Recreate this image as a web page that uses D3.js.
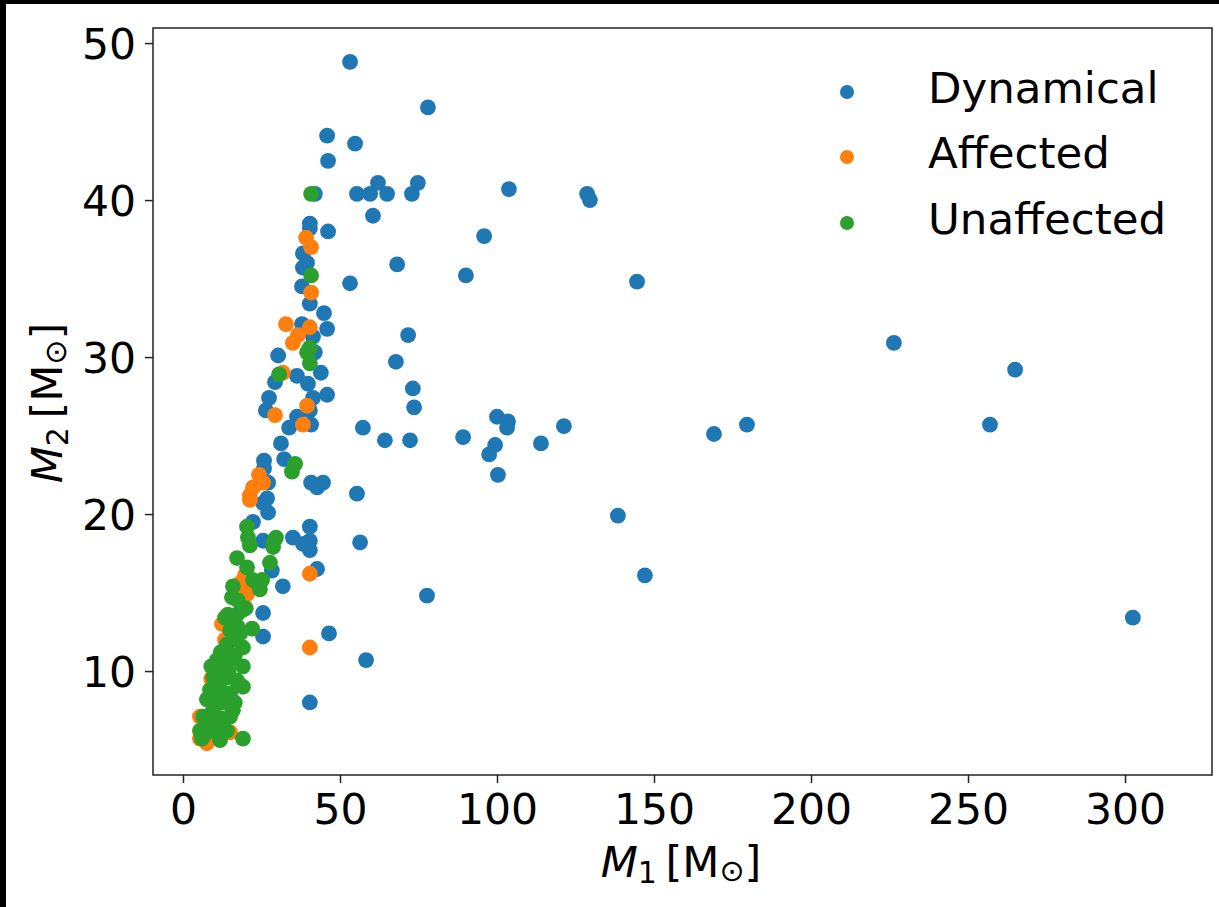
<!DOCTYPE html>
<html>
<head>
<meta charset="utf-8">
<script src="https://cdn.jsdelivr.net/npm/d3@7"></script>
<style>
  html, body { margin: 0; padding: 0; background: #fff; }
  svg { display: block; }
  text { font-family: "DejaVu Sans", sans-serif; fill: #000; }
</style>
</head>
<body>
<svg id="chart" width="1219" height="907"></svg>
<script>
// ---------------- data ----------------
const seriesNames = ["Dynamical", "Affected", "Unaffected"];
const seriesColors = ["#1f77b4", "#ff7f0e", "#2ca02c"];

const dynamicalM1 = [53.2,78.0,45.9,54.8,46.2,42.0,55.4,59.6,62.1,65.0,72.9,74.8,60.5,40.4,40.4,46.2,38.2,38.2,68.2,53.2,
  40.4,44.9,45.9,37.9,41.4,42.0,30.3,71.7,67.8,29.3,36.3,39.8,43.9,73.2,73.6,27.4,26.4,45.9,41.4,40.4,
  36.3,33.8,40.8,57.3,64.3,72.3,89.2,31.2,32.2,25.8,25.8,27.1,26.8,40.8,44.6,42.7,55.4,
  103.8,128.7,129.6,95.9,90.1,144.6,100.0,103.5,103.2,99.4,97.5,100.3,114.0,121.3,169.1,179.6,138.5,147.1,
  226.4,265.0,257.0,302.5,77.7,58.3,56.4,46.5,40.4,
  25.5,27.1,22.3,25.5,35.0,40.4,40.4,40.4,38.2,28.3,42.7,31.8,25.5,25.5,39.5,37.9];
const dynamicalM2 = [48.8,45.9,44.1,43.6,42.5,40.4,40.4,40.4,41.1,40.4,40.4,41.1,39.0,38.5,38.2,38.0,36.6,35.7,35.9,34.7,
  33.4,32.8,31.8,32.1,31.3,30.3,30.1,31.4,29.7,28.4,28.8,28.3,29.0,28.0,26.8,27.4,26.6,27.6,27.4,26.6,
  26.2,25.5,25.7,25.5,24.7,24.7,24.9,24.5,23.5,23.4,22.9,22.0,21.0,22.0,22.0,21.7,21.3,
  40.7,40.4,40.0,37.7,35.2,34.8,26.2,25.9,25.5,24.4,23.8,22.5,24.5,25.6,25.1,25.7,19.9,16.1,
  30.9,29.2,25.7,13.4,14.8,10.7,18.2,12.4,8.0,
  20.7,20.1,19.5,18.3,18.5,19.2,18.3,17.7,18.1,16.4,16.5,15.4,13.7,12.2,36.0,34.5];

const affectedM1 = [39.2,40.8,40.8,32.8,40.4,36.6,35.0,31.8,29.3,39.5,38.2,24.2,25.5,22.3,21.3,21.3,40.4,40.4,
  19.7,18.2,20.4,12.4,14.0,13.0,5.4,7.6,15.0,5.4,20.0,16.5,13.4,9.0];
const affectedM2 = [37.6,37.0,34.1,32.1,31.9,31.4,30.9,29.0,26.3,26.9,25.7,22.5,22.0,21.7,21.2,20.9,16.2,11.5,
  16.1,15.6,14.9,13.0,11.0,8.0,5.7,5.4,6.1,7.1,15.5,15.0,12.0,9.5];

const unaffectedM1 = [20.4,20.7,21.3,29.6,28.7,27.7,17.2,20.4,22.3,25.2,24.5,15.9,15.6,14.3,17.2,13.4,19.1,22.0,18.2,15.0,
  14.0,19.1,10.8,15.0,19.1,9.6,14.0,17.2,8.6,15.0,19.1,7.6,11.8,15.9,6.4,10.8,15.0,5.4,10.8,14.0,
  6.0,11.8,19.1,12.4,13.0,9.5,12.0,16.5,8.0,13.0,16.5,11.5,10.0,17.5,20.0,16.0,
  12.0,14.5,11.0,13.5,9.0,12.5,8.5,7.0,16.0,17.5,
  40.8,40.8,40.4,39.5,40.4,30.6,35.7,34.7,29.0,24.0];
const unaffectedM2 = [19.2,18.5,18.0,18.5,17.9,16.9,17.2,16.6,15.8,15.8,15.2,15.4,14.7,13.6,13.6,13.4,13.9,12.7,12.4,12.6,
  11.7,11.5,10.7,10.7,10.3,9.6,9.6,9.4,8.8,8.6,9.0,8.2,8.0,7.5,7.1,6.9,7.1,6.2,6.1,6.2,
  5.7,5.6,5.7,10.0,8.5,7.5,7.0,8.0,6.5,10.5,11.0,9.0,8.5,14.5,14.0,12.0,
  11.2,10.0,9.8,8.0,10.3,6.6,6.9,6.0,13.2,12.8,
  40.4,35.2,30.6,30.3,29.6,28.9,23.2,22.7,18.3,15.5];

const xTicks = [0, 50, 100, 150, 200, 250, 300];
const yTicks = [10, 20, 30, 40, 50];
const xDomain = [-9.55, 327.7];
const yDomain = [3.38, 50.96];

// ---------------- layout ----------------
const svg = d3.select("#chart");
const W = 1219, H = 907;
const plot = { left: 153, right: 1212, top: 28, bottom: 775 };

svg.append("rect").attr("width", W).attr("height", H).attr("fill", "#fff");
// dark border strips of the original picture
svg.append("rect").attr("x", 0).attr("y", 0).attr("width", W).attr("height", 4).attr("fill", "#000");
svg.append("rect").attr("x", 0).attr("y", 0).attr("width", 6).attr("height", H).attr("fill", "#000");

const x = d3.scaleLinear().domain(xDomain).range([plot.left, plot.right]);
const y = d3.scaleLinear().domain(yDomain).range([plot.bottom, plot.top]);

// points
const seriesData = [
  d3.zip(dynamicalM1, dynamicalM2),
  d3.zip(affectedM1, affectedM2),
  d3.zip(unaffectedM1, unaffectedM2)
];
const gPts = svg.append("g");
seriesData.forEach((pts, i) => {
  gPts.append("g").selectAll("circle").data(pts).join("circle")
    .attr("cx", d => x(d[0])).attr("cy", d => y(d[1]))
    .attr("r", 7.9).attr("fill", seriesColors[i]);
});

// frame
svg.append("rect")
  .attr("x", plot.left).attr("y", plot.top)
  .attr("width", plot.right - plot.left).attr("height", plot.bottom - plot.top)
  .attr("fill", "none").attr("stroke", "#222").attr("stroke-width", 1.5);

// axes
const fontSize = 42.5;
const xAxis = svg.append("g").attr("transform", `translate(0,${plot.bottom})`)
  .call(d3.axisBottom(x).tickValues(xTicks).tickSize(8).tickPadding(10).tickFormat(d3.format("d")));
const yAxis = svg.append("g").attr("transform", `translate(${plot.left},0)`)
  .call(d3.axisLeft(y).tickValues(yTicks).tickSize(8).tickPadding(10).tickFormat(d3.format("d")));
[xAxis, yAxis].forEach(a => {
  a.select(".domain").remove();
  a.selectAll(".tick line").attr("stroke", "#222").attr("stroke-width", 1.5);
  a.selectAll(".tick text").attr("font-family", "DejaVu Sans").attr("font-size", fontSize).attr("fill", "#000");
});
xAxis.selectAll(".tick text").attr("dy", null).attr("y", 49);
yAxis.selectAll(".tick text").attr("dy", null).attr("y", 15).attr("x", -17);

// axis labels
function mathLabel(sel, sub) {
  sel.append("tspan").attr("font-style", "italic").text("M");
  sel.append("tspan").attr("font-size", 30).attr("dy", 6).text(sub);
  sel.append("tspan").attr("dy", -6).text("\u2009[M");
  sel.append("tspan").attr("font-size", 30).attr("dy", 4).text("\u2299");
  sel.append("tspan").attr("dy", -4).text("]");
}
const xl = svg.append("text").attr("x", 681).attr("y", 877)
  .attr("text-anchor", "middle").attr("font-size", 43);
mathLabel(xl, "1");
const yl = svg.append("text").attr("transform", "translate(62,403) rotate(-90)")
  .attr("text-anchor", "middle").attr("font-size", 43);
mathLabel(yl, "2");

// legend
const legY = [92, 157, 223];
const leg = svg.append("g");
seriesNames.forEach((name, i) => {
  leg.append("circle").attr("cx", 847).attr("cy", legY[i]).attr("r", 7).attr("fill", seriesColors[i]);
  leg.append("text").attr("x", 928).attr("y", legY[i] + 11).attr("font-size", 43.5).text(name);
});
</script>
</body>
</html>
